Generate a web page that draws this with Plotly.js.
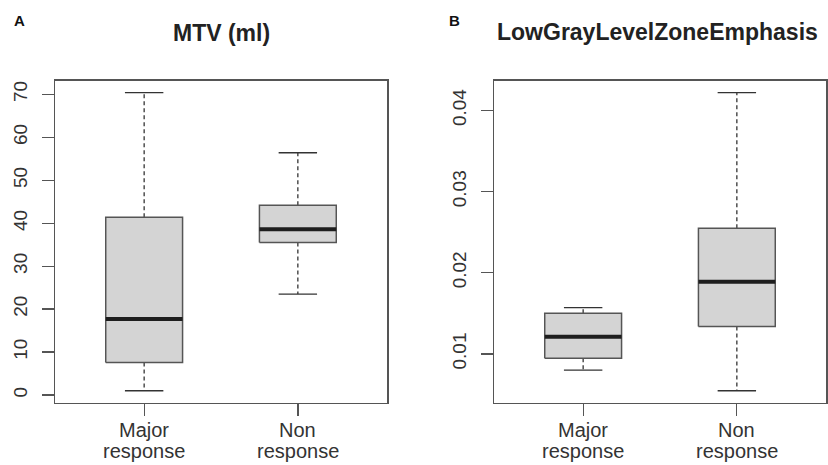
<!DOCTYPE html>
<html>
<head>
<meta charset="utf-8">
<script src="https://cdn.plot.ly/plotly-3.0.1.min.js"></script>
<style>html,body{margin:0;padding:0;background:#fff;}#chart{width:828px;height:465px;}</style>
</head>
<body>
<div id="chart"></div>
<script>
// ---- data ----
var groupLine1 = ['Major', 'Non'];
var groupLine2 = ['response', 'response'];

// Panel A: MTV (ml)
var mtvLower  = [1.0, 23.5];
var mtvQ1     = [7.6, 35.5];
var mtvMedian = [17.7, 38.6];
var mtvQ3     = [41.4, 44.2];
var mtvUpper  = [70.4, 56.4];

// Panel B: LowGrayLevelZoneEmphasis
var lgLower  = [0.0080, 0.00545];
var lgQ1     = [0.00947, 0.01336];
var lgMedian = [0.0121, 0.0189];
var lgQ3     = [0.0150, 0.02547];
var lgUpper  = [0.0157, 0.0422];

var yTicksA = [0, 10, 20, 30, 40, 50, 60, 70];
var yTicksB = [0.01, 0.02, 0.03, 0.04];
var yTickTextB = ['0.01', '0.02', '0.03', '0.04'];

// ---- styling ----
var BOX_HALF = 0.25, CAP_HALF = 0.125;
var LINE = '#555555', FILL = '#d4d4d4', MED = '#1e1e1e';
var FAMILY = 'Liberation Sans, Arial, sans-serif';

function boxTraces(lo, q1, med, q3, hi, xa, ya) {
  var wx = [], wy = [], bx = [], by = [], mx = [], my = [], cx = [], cy = [];
  for (var i = 0; i < lo.length; i++) {
    var c = i + 1;
    wx.push(c, c, null, c, c, null);
    wy.push(q3[i], hi[i], null, q1[i], lo[i], null);
    bx.push(c - BOX_HALF, c + BOX_HALF, c + BOX_HALF, c - BOX_HALF, c - BOX_HALF, null);
    by.push(q1[i], q1[i], q3[i], q3[i], q1[i], null);
    mx.push(c - BOX_HALF, c + BOX_HALF, null);
    my.push(med[i], med[i], null);
    cx.push(c - CAP_HALF, c + CAP_HALF, null, c - CAP_HALF, c + CAP_HALF, null);
    cy.push(hi[i], hi[i], null, lo[i], lo[i], null);
  }
  var common = {type: 'scatter', mode: 'lines', xaxis: xa, yaxis: ya, hoverinfo: 'skip', showlegend: false};
  return [
    Object.assign({}, common, {x: wx, y: wy, line: {color: '#333333', width: 1.3, dash: '4px,3px'}}),
    Object.assign({}, common, {x: bx, y: by, fill: 'toself', fillcolor: FILL, line: {color: LINE, width: 1.5}}),
    Object.assign({}, common, {x: mx, y: my, line: {color: MED, width: 4}}),
    Object.assign({}, common, {x: cx, y: cy, line: {color: '#333333', width: 1.3}})
  ];
}

function padRange(lo, hi) {
  var mn = Math.min.apply(null, lo), mx = Math.max.apply(null, hi);
  var d = (mx - mn) * 0.04;
  return [mn - d, mx + d];
}

var traces = [].concat(
  boxTraces(mtvLower, mtvQ1, mtvMedian, mtvQ3, mtvUpper, 'x', 'y'),
  boxTraces(lgLower, lgQ1, lgMedian, lgQ3, lgUpper, 'x2', 'y2')
);

var H = 465, W = 828;
var yDom = [(H - 402.7) / H, (H - 80.7) / H];
var tickFont = {family: FAMILY, size: 19, color: '#333333'};
var catFont = {family: FAMILY, size: 20, color: '#333333'};

function xAxis(domain, anchor) {
  return {
    domain: domain, anchor: anchor, range: [0.42, 2.58],
    tickvals: [1, 2], showticklabels: false, ticks: 'outside', ticklen: 12, tickwidth: 1.3, tickcolor: LINE,
    showline: true, mirror: true, linecolor: LINE, linewidth: 1.5,
    showgrid: false, zeroline: false, fixedrange: true
  };
}
function yAxis(domain, anchor, range, tv, tt) {
  var a = {
    domain: domain, anchor: anchor, range: range,
    tickvals: tv, ticks: 'outside', ticklen: 12, tickwidth: 1.3, tickcolor: LINE,
    showline: true, mirror: true, linecolor: LINE, linewidth: 1.5,
    showgrid: false, zeroline: false, tickfont: tickFont, tickangle: -90, fixedrange: true,
    ticklabelstandoff: 7
  };
  if (tt) a.ticktext = tt;
  return a;
}

var titleFont = {family: FAMILY, size: 23, color: '#222222'};
var letterFont = {family: FAMILY, size: 15, color: '#111111'};

var annotations = [
  {xref: 'paper', yref: 'paper', x: 221 / W, y: (H - 33) / H, xanchor: 'center', yanchor: 'middle',
   text: '<b>MTV (ml)</b>', showarrow: false, font: titleFont},
  {xref: 'paper', yref: 'paper', x: 657 / W, y: (H - 32) / H, xanchor: 'center', yanchor: 'middle',
   text: '<b>LowGrayLevelZoneEmphasis</b>', showarrow: false, font: titleFont},
  {xref: 'paper', yref: 'paper', x: 19 / W, y: (H - 20.5) / H, xanchor: 'center', yanchor: 'middle',
   text: '<b>A</b>', showarrow: false, font: letterFont},
  {xref: 'paper', yref: 'paper', x: 454 / W, y: (H - 20.5) / H, xanchor: 'center', yanchor: 'middle',
   text: '<b>B</b>', showarrow: false, font: letterFont}
];
['x', 'x2'].forEach(function (xr) {
  for (var i = 0; i < groupLine1.length; i++) {
    annotations.push({xref: xr, yref: 'paper', x: i + 1, y: (H - 430) / H, xanchor: 'center', yanchor: 'middle',
      text: groupLine1[i], showarrow: false, font: catFont});
    annotations.push({xref: xr, yref: 'paper', x: i + 1, y: (H - 451) / H, xanchor: 'center', yanchor: 'middle',
      text: groupLine2[i], showarrow: false, font: catFont});
  }
});

var layout = {
  width: W, height: H,
  margin: {l: 0, r: 0, t: 0, b: 0},
  paper_bgcolor: '#ffffff', plot_bgcolor: '#ffffff',
  hovermode: false,
  xaxis: xAxis([55 / W, 387 / W], 'y'),
  yaxis: yAxis(yDom, 'x', padRange(mtvLower, mtvUpper), yTicksA),
  xaxis2: xAxis([494 / W, 826 / W], 'y2'),
  yaxis2: yAxis(yDom, 'x2', padRange(lgLower, lgUpper), yTicksB, yTickTextB),
  annotations: annotations
};

Plotly.newPlot('chart', traces, layout, {displayModeBar: false, staticPlot: true});
</script>
</body>
</html>
